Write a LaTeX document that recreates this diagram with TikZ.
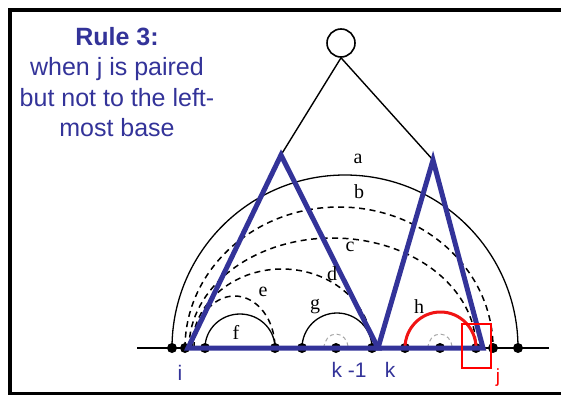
\documentclass[tikz,border=0pt]{standalone}
\usepackage{fontspec}
\setmainfont{Liberation Serif}
\setsansfont{Liberation Sans}
\usepackage{xcolor}
\usetikzlibrary{positioning}
\definecolor{ruleblue}{RGB}{51,51,153}
\definecolor{pairred}{RGB}{240,20,20}
\tikzset{
  basedot/.style={circle, fill=black, inner sep=0pt, minimum size=10pt},
  pairarc/.style={black, line width=1.3pt},
  maybearc/.style={black, line width=1.5pt, dash pattern=on 6pt off 4.5pt},
  smallarc/.style={gray!70, line width=1pt, dash pattern=on 4pt off 3pt},
  tri/.style={draw=ruleblue, line width=5pt, line join=miter},
  arclabel/.style={font=\fontsize{20}{20}\selectfont, inner sep=0pt},
  poslabel/.style={font=\sffamily\fontsize{21}{21}\selectfont, text=ruleblue, inner sep=0pt, anchor=base}
}
\begin{document}
\begin{tikzpicture}[x=1pt, y=-1pt]
\useasboundingbox (0,0) rectangle (561,395);
% frame, open on the right
\draw[line width=4pt] (600,10) -- (10,10) -- (10,393.5) -- (600,393.5);

\node[font=\sffamily\fontsize{25}{30.5}\selectfont, text=ruleblue, align=center, inner sep=0pt, anchor=north] (rule) at (117,27)
  {\textbf{Rule 3:}\\when j is paired\\but not to the left-\\most base};

% backbone and bases
\draw[line width=1.3pt] (137,348) -- (549,348);
\foreach \x [count=\n] in {172,185,205,275,302,336,372,405,440,476,493,518}
  \node[basedot] (b\n) at (\x,348) {};

% pairs
\draw[pairarc] (b1.center) arc[start angle=180, end angle=360, radius=173];
\draw[maybearc] (b2.center) arc[start angle=180, end angle=360, x radius=154, y radius=141];
\draw[maybearc] ([xshift=4pt]b2.center) arc[start angle=180, end angle=360, x radius=143.5, y radius=110];
\draw[maybearc] ([xshift=7pt]b2.center) arc[start angle=180, end angle=360, x radius=90, y radius=79];
\draw[maybearc] ([xshift=9pt]b2.center) arc[start angle=180, end angle=360, x radius=40.5, y radius=52];
\draw[pairarc] (b3.center) arc[start angle=180, end angle=360, x radius=35, y radius=34];
\draw[pairarc] (b5.center) arc[start angle=180, end angle=360, radius=35];
\draw[pairred, line width=3pt] (b8.center) arc[start angle=180, end angle=360, x radius=35.5, y radius=36];
\draw[smallarc] ([xshift=-12pt]b6.center) arc[start angle=180, end angle=360, x radius=12, y radius=14];
\draw[smallarc] ([xshift=-12pt]b9.center) arc[start angle=180, end angle=360, x radius=12, y radius=14];

% subtrees
\coordinate (apexL) at (281,155);
\coordinate (apexR) at (433,160);
\node[draw, circle, line width=1.6pt, minimum size=28pt, inner sep=0pt] (top) at (341,43) {};
\draw[line width=1.4pt] (top.south) -- (apexL);
\draw[line width=1.4pt] (top.south) -- (apexR);
\draw[tri] (188,348) -- (apexL) -- (378,348) -- cycle;
\draw[tri] (378,348) -- (apexR) -- (483,348) -- cycle;

% arc labels
\node[arclabel] (la) at (358,159) {a};
\node[arclabel] (lb) at (359,192) {b};
\node[arclabel] (lc) at (350,247) {c};
\node[arclabel] (ld) at (332,274) {d};
\node[arclabel] (le) at (263,292) {e};
\node[arclabel] (lf) at (236,332) {f};
\node[arclabel] (lg) at (315,307) {g};
\node[arclabel] (lh) at (419,307) {h};

% last base and positions
\node[draw=red, line width=1.8pt, minimum width=29pt, minimum height=44pt, inner sep=0pt] (jbox) at (476.5,346) {};
\node[poslabel] (li) at (180,380) {i};
\node[poslabel] (lk1) at (349,377) {k -1};
\node[poslabel] (lk) at (390,377) {k};
\node[poslabel, text=red, font=\sffamily\fontsize{19}{19}\selectfont] (lj) at (498,382) {j};
\end{tikzpicture}
\end{document}
